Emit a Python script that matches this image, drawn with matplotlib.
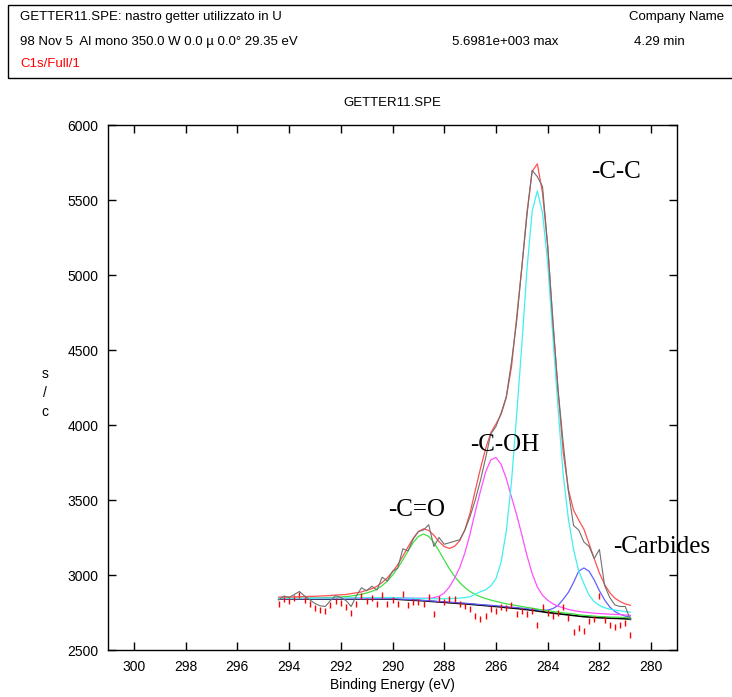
import numpy as np
import matplotlib
matplotlib.use("Agg")
import matplotlib.pyplot as plt
from matplotlib.patches import Rectangle

# binding energy grid, 0.2 eV step (294.4 -> 280.8)
energy = np.round(np.arange(294.4, 280.7, -0.2), 1)

# measured counts
counts = [2833, 2860, 2850, 2870, 2890, 2860, 2835, 2810, 2795, 2790,
          2830, 2862, 2850, 2830, 2790, 2860, 2915, 2895, 2925, 2900,
          2985, 2960, 3025, 3045, 3175, 3160, 3240, 3290, 3300, 3335,
          3190, 3250, 3205, 3215, 3225, 3235, 3300, 3390, 3500, 3630,
          3780, 3940, 3990, 4080, 4190, 4420, 4690, 5050, 5400, 5698,
          5655, 5590, 5200, 4690, 4240, 3880, 3560, 3330, 3300, 3220,
          3190, 3110, 3170, 2930, 2850, 2800, 2790, 2790, 2700]

# Shirley background
background = [2840, 2840, 2840, 2840, 2840, 2840, 2840, 2840, 2840, 2840,
              2840, 2840, 2840, 2840, 2840, 2840, 2840, 2840, 2840, 2840,
              2840, 2840, 2840, 2838, 2836, 2834, 2832, 2830, 2828, 2825,
              2823, 2820, 2818, 2815, 2813, 2810, 2808, 2805, 2802, 2799,
              2796, 2793, 2790, 2787, 2783, 2780, 2777, 2773, 2769, 2765,
              2760, 2755, 2750, 2746, 2742, 2738, 2734, 2730, 2726, 2722,
              2720, 2717, 2715, 2714, 2712, 2711, 2710, 2708, 2706]

# fitted components, height above background
peak_co = [4, 4, 5, 5, 5, 6, 6, 7, 8, 9,
           10, 12, 14, 16, 20, 25, 31, 40, 51, 66,
           89, 119, 159, 208, 265, 326, 384, 427, 445, 432,
           394, 340, 282, 226, 178, 139, 108, 85, 68, 56,
           47, 40, 34, 29, 25, 22, 19, 17, 15, 14,
           13, 12, 12, 11, 11, 10, 10, 10, 9, 9,
           9, 9, 8, 8, 8, 8, 8, 8, 8]
peak_coh = [3, 3, 3, 3, 3, 4, 4, 4, 4, 4,
            5, 5, 5, 5, 6, 6, 6, 7, 7, 8,
            8, 9, 9, 10, 11, 12, 13, 15, 17, 20,
            26, 38, 62, 105, 165, 240, 340, 470, 620, 760,
            890, 975, 993, 950, 860, 740, 625, 495, 360, 245,
            160, 110, 82, 62, 50, 43, 37, 33, 31, 30,
            29, 28, 28, 27, 27, 26, 26, 25, 25]
peak_cc = [4, 4, 4, 4, 5, 5, 5, 5, 6, 6,
           6, 7, 7, 7, 8, 8, 8, 9, 9, 9,
           10, 10, 10, 10, 11, 12, 13, 14, 15, 17,
           19, 21, 24, 27, 31, 36, 42, 50, 70, 90,
           105, 135, 185, 300, 510, 840, 1290, 1760, 2270, 2660,
           2800, 2660, 2330, 1850, 1370, 930, 640, 440, 300, 220,
           145, 105, 82, 68, 60, 55, 51, 48, 46]
peak_carb = [2, 2, 2, 2, 2, 2, 2, 2, 2, 2,
             2, 2, 2, 2, 2, 2, 2, 2, 2, 2,
             3, 3, 3, 3, 3, 3, 3, 3, 3, 3,
             3, 3, 4, 4, 4, 4, 4, 4, 4, 4,
             4, 5, 5, 5, 5, 5, 6, 6, 6, 7,
             8, 11, 16, 30, 55, 100, 150, 220, 300, 325,
             305, 250, 180, 120, 75, 45, 28, 18, 13]

bg = np.array(background)
comp_co = bg + np.array(peak_co)
comp_coh = bg + np.array(peak_coh)
comp_cc = bg + np.array(peak_cc)
comp_carb = bg + np.array(peak_carb)
envelope = bg + np.array(peak_co) + np.array(peak_coh) + np.array(peak_cc) + np.array(peak_carb)
resid = np.array(counts) - envelope + bg - 10

plt.rcParams['font.family'] = ['Liberation Sans', 'DejaVu Sans']

fig = plt.figure(figsize=(7.32, 6.97), dpi=100)
ax = fig.add_axes([108/732, 1 - 650/697, (677 - 108)/732, (650 - 125)/697])

ax.plot(energy, bg, color='black', lw=1.2)
ax.plot(energy, comp_carb, color='#6060ff', lw=0.9)
ax.plot(energy, comp_co, color='#40e040', lw=0.9)
ax.plot(energy, comp_coh, color='#ff50ff', lw=0.9)
ax.plot(energy, comp_cc, color='#40f0f0', lw=0.9)
ax.plot(energy, resid, ls='none', marker='|', ms=4, mew=1, color='red')
ax.plot(energy, envelope, color='#ff5050', lw=0.9)
ax.plot(energy, counts, color='#707070', lw=0.8)

ax.set_xlim(301, 279)
ax.set_ylim(2500, 6000)
ax.set_xticks(np.arange(300, 279, -2))
ax.set_yticks(np.arange(2500, 6001, 500))
ax.tick_params(direction='in', length=6, width=1, top=True, right=True,
               labelsize=10, pad=7)
for s in ax.spines.values():
    s.set_linewidth(1)
ax.set_xlabel("Binding Energy (eV)", fontsize=10, labelpad=3)
ax.set_title("GETTER11.SPE", fontsize=9.5, pad=14)
fig.text(45/732, 1 - 393/697, "s\n/\nc", ha='center', va='center', fontsize=10,
         linespacing=1.45)

serif = dict(family=['Liberation Serif', 'DejaVu Serif'], fontsize=18)
ax.text(282.33, 5687, "-C-C", ha='left', va='center', **serif)
ax.text(287.0, 3867, "-C-OH", ha='left', va='center', **serif)
ax.text(290.17, 3433, "-C=O", ha='left', va='center', **serif)
ax.text(281.48, 3187, "-Carbides", ha='left', va='center', clip_on=False, **serif)

# header box
fig.patches.append(Rectangle((8/732, 1 - 78/697), 1.0, 73/697, transform=fig.transFigure,
                             fill=False, edgecolor='black', lw=1))
fig.text(20/732, 1 - 17/697, "GETTER11.SPE: nastro getter utilizzato in U", fontsize=9.5,
         va='center')
fig.text(724/732, 1 - 17/697, "Company Name", fontsize=9.5, va='center', ha='right')
fig.text(20/732, 1 - 42/697, "98 Nov 5  Al mono 350.0 W 0.0 \u00b5 0.0\u00b0 29.35 eV",
         fontsize=9.5, va='center')
fig.text(452/732, 1 - 42/697, "5.6981e+003 max", fontsize=9.5, va='center')
fig.text(634/732, 1 - 42/697, "4.29 min", fontsize=9.5, va='center')
fig.text(20/732, 1 - 64/697, "C1s/Full/1", fontsize=9.5, va='center', color='red')

fig.savefig("out.png", dpi=100)
